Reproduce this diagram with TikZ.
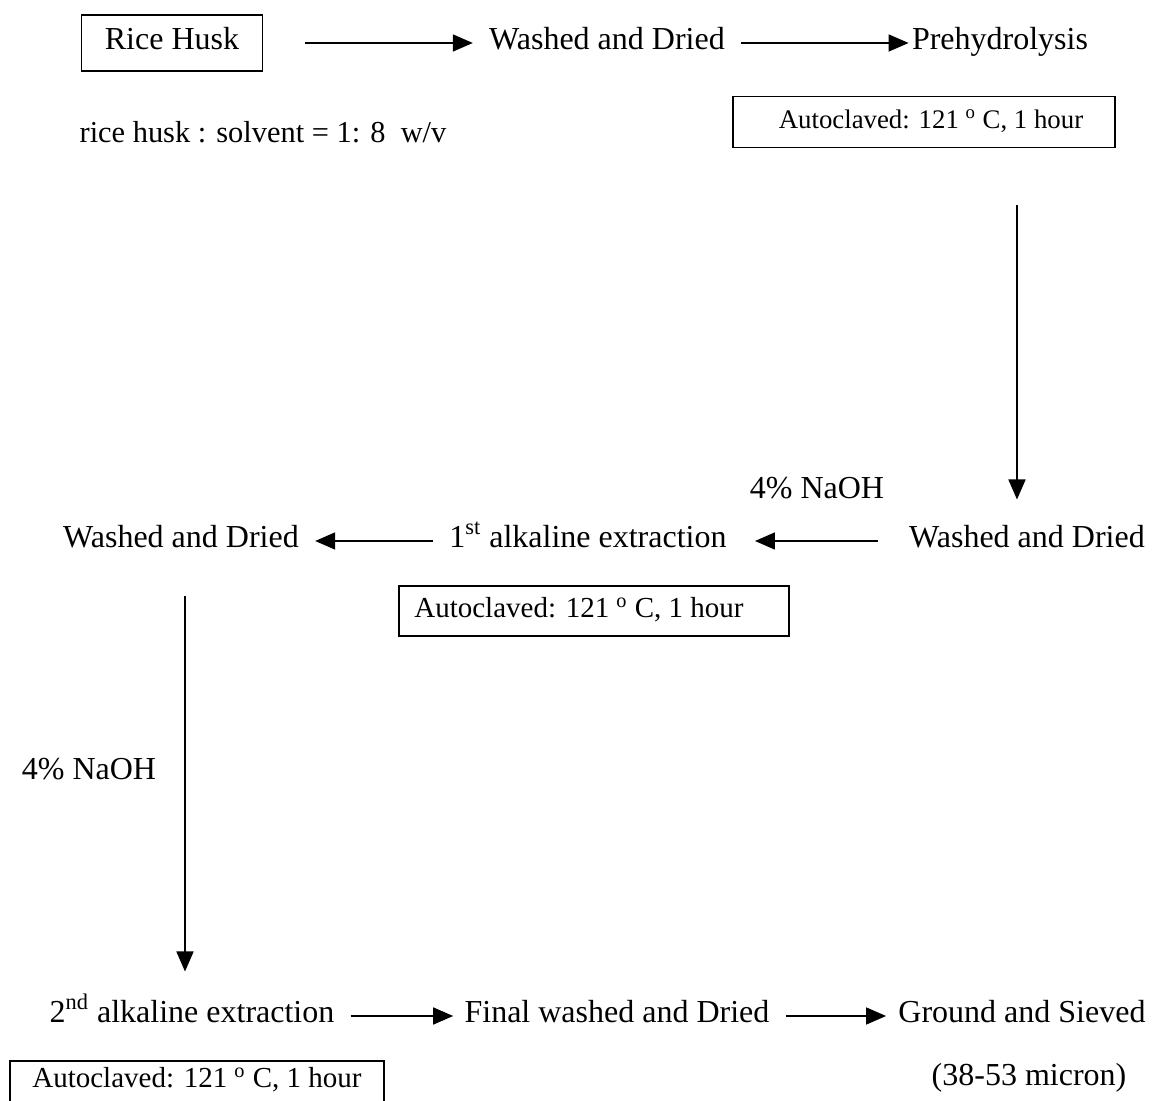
\documentclass[tikz,border=0pt]{standalone}
\usepackage{fontspec}
\setmainfont{Liberation Serif}
\usetikzlibrary{arrows.meta,positioning,calc}

\tikzset{
  stage/.style={font=\fontsize{16}{19}\selectfont, inner ysep=0pt, inner xsep=8pt,
    text height=0.9em, text depth=0.25em},
  note/.style={font=\fontsize{14.5}{17}\selectfont, inner ysep=0pt, inner xsep=6pt,
    text height=0.9em, text depth=0.25em},
  autobox/.style={note, draw, line width=0.8pt},
  flow/.style={line width=0.8pt, -{Triangle[length=10pt,width=8.5pt]}},
}

\begin{document}
\begin{tikzpicture}[x=0.5pt,y=-0.5pt]
  \useasboundingbox (0,0) rectangle (1153,1101);

  % first row
  \node[stage, draw, line width=0.8pt, minimum width=90.5pt, minimum height=28pt] (husk) at (172,43) {Rice Husk};
  \node[stage] (wash1) at (607,43) {Washed and Dried};
  \node[stage] (prehyd) at (1000,43) {Prehydrolysis};
  \node[stage, font=\fontsize{15.2}{18}\selectfont] (ratio) at (263,136) {rice husk : solvent = 1: 8\ \ w/v};
  \node[autobox, font=\fontsize{13.4}{16}\selectfont, minimum width=191pt, minimum height=25.5pt] (auto1) at (924,122) {\hspace*{7pt}Autoclaved: 121 \textsuperscript{o} C, 1 hour};

  % second row
  \node[stage] (naoh1) at (817,492) {4\% NaOH};
  \node[stage] (wash2) at (1027,541) {Washed and Dried};
  \node[stage] (ext1) at (588,541) {1\textsuperscript{st} alkaline extraction};
  \node[stage] (wash3) at (181,541) {Washed and Dried};
  \node[autobox, minimum width=195pt, minimum height=25pt] (auto2) at (594,611) {Autoclaved: 121 \textsuperscript{o} C, 1 hour\hspace*{15pt}};
  \node[stage] (naoh2) at (89,773) {4\% NaOH};

  % third row
  \node[stage] (ext2) at (192,1016) {2\textsuperscript{nd} alkaline extraction};
  \node[stage] (final) at (617,1016) {Final washed and Dried};
  \node[stage] (ground) at (1022,1016) {Ground and Sieved};
  \node[autobox, minimum width=187pt, text height=1.35em, text depth=1.2em, anchor=north] (auto3) at (197,1060) {Autoclaved: 121 \textsuperscript{o} C, 1 hour};
  \node[stage] (size) at (1029,1079) {(38-53 micron)};

  % connectors
  \draw[flow, shorten <=21pt] (husk.east) -- (wash1.west);
  \draw[flow, shorten >=-6.5pt] (wash1.east) -- (prehyd.west);
  \draw[flow, shorten <=28.5pt, shorten >=14.8pt] ([xshift=-5pt]wash2.north |- auto1.south) -- ([xshift=-5pt]wash2.north);
  \draw[flow, shorten <=7.5pt, shorten >=6pt] (wash2.west) -- (ext1.east);
  \draw[flow] (ext1.west) -- (wash3.east);
  \draw[flow, shorten <=21.5pt, shorten >=16.3pt] ([xshift=2pt]wash3.south) -- ([xshift=2pt]wash3.south |- ext2.north);
  \draw[flow, shorten >=-2.5pt] (ext2.east) -- (final.west);
  \draw[flow, shorten >=-2pt] (final.east) -- (ground.west);

\end{tikzpicture}
\end{document}
